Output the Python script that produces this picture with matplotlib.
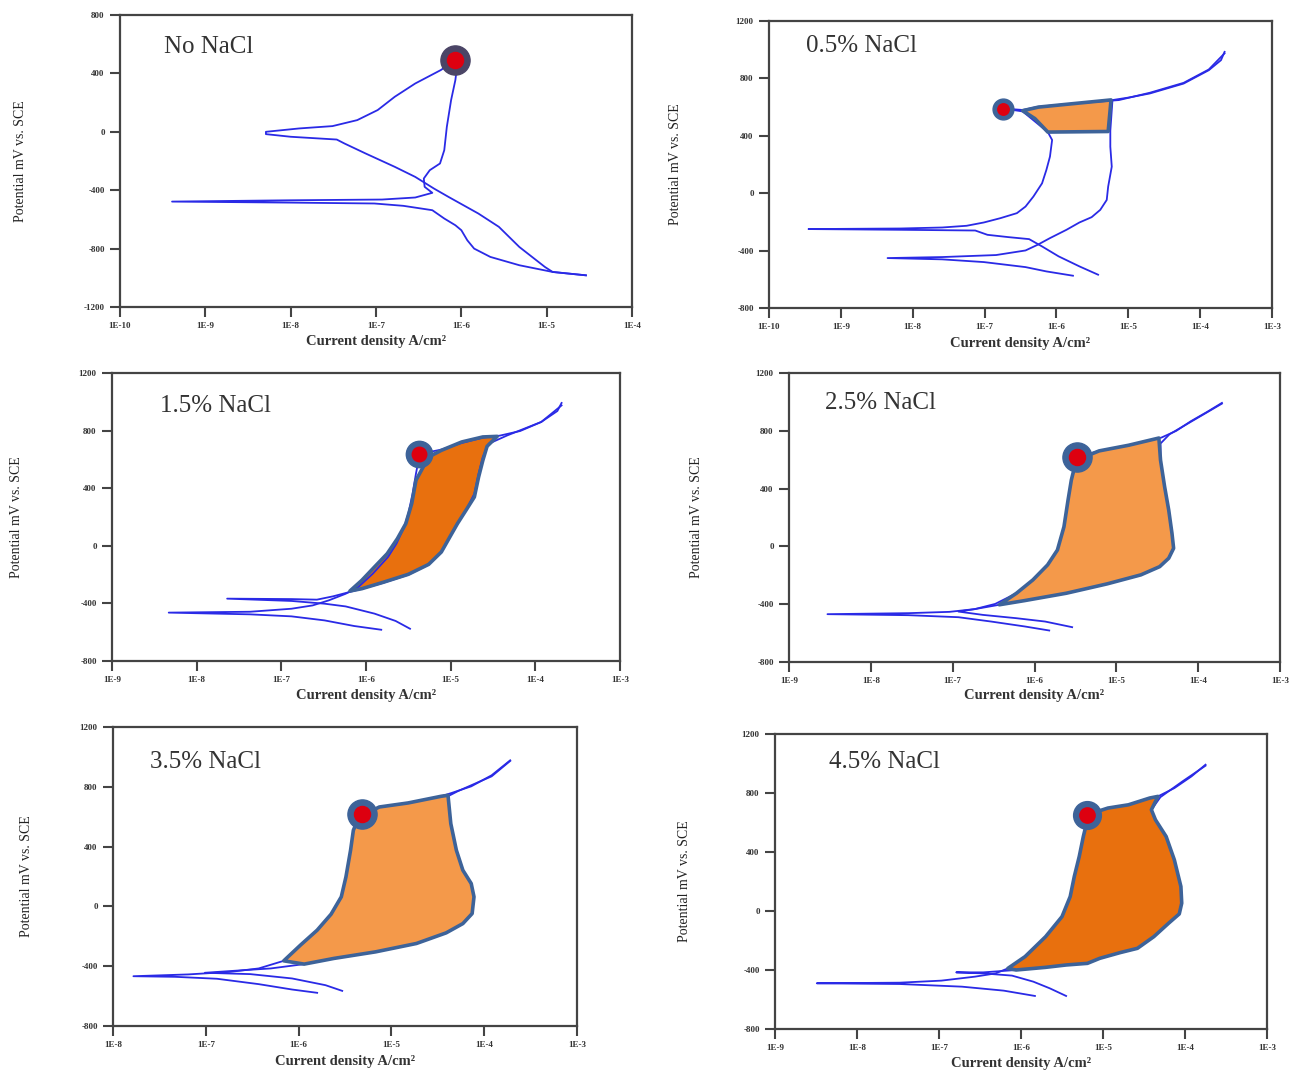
import numpy as np
import matplotlib
matplotlib.use("Agg")
import matplotlib.pyplot as plt

plt.rcParams['font.family'] = ['Liberation Serif', 'DejaVu Serif']

W, H = 1299, 1072

# ---------------- data (log10 current density A/cm2, potential mV vs SCE) -------------
titles = ["No NaCl", "0.5% NaCl", "1.5% NaCl", "2.5% NaCl", "3.5% NaCl", "4.5% NaCl"]

p1_xticklabels = ["1E-10", "1E-9", "1E-8", "1E-7", "1E-6", "1E-5", "1E-4"]
p1_yticks = [-1200, -800, -400, 0, 400, 800]
p1_fwd_log = [-4.54, -4.93, -5.32, -5.66, -5.85, -5.93, -6.00, -6.07, -6.20, -6.34, -6.68, -7.02, -8.00, -9.39,
              -8.00, -6.93, -6.54, -6.34, -6.43, -6.44, -6.37, -6.25, -6.20, -6.17, -6.12, -6.07, -6.05, -6.07]
p1_fwd_mv = [-983, -960, -914, -857, -800, -743, -674, -640, -594, -537, -507, -491, -485, -478,
             -469, -464, -450, -418, -377, -320, -263, -217, -126, 34, 217, 354, 446, 491]
p1_rev_log = [-6.07, -6.24, -6.54, -6.78, -6.98, -7.22, -7.51, -7.90, -8.29, -8.29, -8.00, -7.46, -7.37, -7.12,
              -6.78, -6.54, -6.32, -6.15, -5.80, -5.56, -5.32, -5.02, -4.93, -4.54]
p1_rev_mv = [491, 423, 331, 240, 149, 80, 39, 23, 0, -16, -34, -53, -80, -149,
             -240, -309, -389, -446, -560, -651, -789, -926, -960, -983]
p1_dot = (-6.07, 491)

p2_xticklabels = ["1E-10", "1E-9", "1E-8", "1E-7", "1E-6", "1E-5", "1E-4", "1E-3"]
p2_yticks = [-800, -400, 0, 400, 800, 1200]
p2_fwd_log = [-5.77, -6.14, -6.43, -7.01, -7.59, -8.35, -7.59, -6.84, -6.43, -6.26, -6.09, -5.86, -5.68, -5.51,
              -5.39, -5.30, -5.28, -5.23, -5.25, -5.25, -5.22, -4.99, -4.70, -4.23, -3.88, -3.71, -3.66]
p2_fwd_mv = [-575, -545, -515, -480, -461, -452, -445, -431, -399, -359, -313, -255, -204, -167,
             -116, -47, 46, 185, 324, 435, 649, 667, 695, 764, 857, 927, 985]
p2_rev_log = [-3.66, -3.88, -4.23, -4.70, -5.13, -5.86, -6.26, -6.47, -6.74, -6.47, -6.12, -6.06, -6.09, -6.14,
              -6.20, -6.32, -6.43, -6.55, -6.78, -7.01, -7.25, -7.59, -8.17, -9.45, -8.17, -7.13, -6.96,
              -6.67, -6.38, -6.20, -5.97, -5.68, -5.42]
p2_rev_mv = [975, 862, 769, 700, 649, 621, 602, 580, 590, 570, 426, 371, 255, 162,
             69, -23, -93, -139, -174, -204, -227, -239, -246, -250, -255, -260, -290,
             -306, -320, -371, -440, -510, -568]
p2_poly_log = [-6.47, -6.25, -5.85, -5.24, -5.28, -6.12, -6.30]
p2_poly_mv = [575, 600, 620, 650, 430, 426, 520]
p2_dot = (-6.74, 590)

p3_xticklabels = ["1E-9", "1E-8", "1E-7", "1E-6", "1E-5", "1E-4", "1E-3"]
p3_yticks = [-800, -400, 0, 400, 800, 1200]
p3_fwd_log = [-5.82, -6.14, -6.49, -6.88, -7.37, -8.33, -7.37, -6.88, -6.63, -6.44, -6.24, -6.09, -5.92, -5.74,
              -5.64, -5.55, -5.50, -5.45, -5.41, -5.38, -5.37, -5.11, -4.87, -4.62, -4.42, -4.18, -3.93, -3.74, -3.69]
p3_fwd_mv = [-583, -557, -518, -490, -476, -464, -458, -437, -414, -379, -333, -286, -194, -78,
             15, 130, 223, 362, 501, 593, 638, 668, 714, 751, 765, 797, 860, 936, 992]
p3_rev_log = [-3.69, -3.93, -4.33, -4.55, -4.62, -4.67, -4.72, -4.82, -4.92, -5.01, -5.11, -5.26, -5.50, -5.80,
              -6.09, -6.39, -6.58, -6.88, -7.64, -6.88, -6.49, -6.24, -5.90, -5.65, -5.48]
p3_rev_mv = [975, 860, 767, 709, 617, 501, 362, 246, 154, 61, -43, -129, -201, -258,
             -305, -351, -374, -370, -367, -383, -402, -421, -471, -522, -576]
p3_poly_log = [-6.19, -6.05, -5.90, -5.75, -5.63, -5.53, -5.46, -5.41, -5.26, -5.11, -4.87, -4.62, -4.45,
               -4.57, -4.62, -4.67, -4.72, -4.82, -4.92, -5.01, -5.11, -5.26, -5.50, -5.80, -6.05]
p3_poly_mv = [-314, -240, -147, -55, 49, 154, 293, 455, 617, 663, 721, 756, 760,
              691, 593, 478, 339, 246, 154, 61, -43, -129, -198, -254, -298]
p3_dot = (-5.37, 638)

p4_xticklabels = ["1E-9", "1E-8", "1E-7", "1E-6", "1E-5", "1E-4", "1E-3"]
p4_yticks = [-800, -400, 0, 400, 800, 1200]
p4_fwd_log = [-5.82, -6.12, -6.53, -6.93, -7.54, -8.53, -7.54, -7.04, -6.73, -6.48, -6.22, -6.02, -5.84,
              -5.72, -5.64, -5.59, -5.55, -5.49, -5.46, -5.21, -4.85, -4.45, -4.27, -4.09, -3.89, -3.71]
p4_fwd_mv = [-582, -554, -520, -490, -476, -469, -462, -453, -434, -398, -324, -232, -128,
             -25, 136, 321, 459, 574, 620, 661, 700, 753, 799, 866, 931, 993]
p4_rev_log = [-3.71, -4.09, -4.35, -4.46, -4.46, -4.41, -4.36, -4.32, -4.30, -4.36, -4.47, -4.70, -5.11,
              -5.61, -6.12, -6.43, -6.73, -6.93, -6.63, -6.22, -5.87, -5.54]
p4_rev_mv = [988, 862, 776, 712, 597, 413, 252, 90, -13, -82, -140, -197, -259,
             -324, -375, -404, -434, -451, -474, -497, -520, -559]
p4_poly_log = [-6.43, -6.22, -6.02, -5.84, -5.72, -5.64, -5.59, -5.55, -5.49, -5.21, -4.85, -4.48,
               -4.46, -4.41, -4.36, -4.32, -4.30, -4.36, -4.47, -4.70, -5.11, -5.61, -6.12]
p4_poly_mv = [-404, -324, -232, -128, -25, 136, 321, 459, 597, 661, 700, 750,
              597, 413, 252, 90, -13, -82, -140, -197, -259, -324, -375]
p4_dot = (-5.48, 620)

p5_xticklabels = ["1E-8", "1E-7", "1E-6", "1E-5", "1E-4", "1E-3"]
p5_yticks = [-800, -400, 0, 400, 800, 1200]
p5_fwd_log = [-5.80, -6.07, -6.43, -6.88, -7.33, -7.78, -7.19, -6.74, -6.43, -6.16, -5.98, -5.80, -5.65,
              -5.54, -5.49, -5.44, -5.41, -5.35, -5.32, -5.13, -4.82, -4.46, -4.35, -4.14, -3.92, -3.72]
p5_fwd_mv = [-578, -556, -520, -484, -471, -467, -455, -438, -415, -364, -259, -159, -52,
             64, 197, 376, 509, 598, 621, 665, 692, 737, 759, 803, 877, 977]
p5_rev_log = [-3.72, -3.92, -4.28, -4.39, -4.36, -4.30, -4.23, -4.14, -4.11, -4.13, -4.23, -4.41, -4.73,
              -5.17, -5.62, -5.94, -6.30, -6.70, -7.01, -6.52, -6.07, -5.71, -5.53]
p5_rev_mv = [973, 870, 772, 737, 554, 376, 242, 153, 64, -48, -115, -177, -248,
             -304, -348, -386, -415, -431, -444, -453, -482, -527, -565]
p5_poly_log = [-6.16, -5.98, -5.80, -5.65, -5.54, -5.49, -5.44, -5.41, -5.35, -5.13, -4.82, -4.46, -4.39,
               -4.36, -4.30, -4.23, -4.14, -4.11, -4.13, -4.23, -4.41, -4.73, -5.17, -5.62, -5.94]
p5_poly_mv = [-364, -259, -159, -52, 64, 197, 376, 509, 598, 665, 692, 737, 743,
              554, 376, 242, 153, 64, -48, -115, -177, -248, -304, -348, -386]
p5_dot = (-5.32, 621)

p6_xticklabels = ["1E-9", "1E-8", "1E-7", "1E-6", "1E-5", "1E-4", "1E-3"]
p6_yticks = [-800, -400, 0, 400, 800, 1200]
p6_fwd_log = [-5.83, -6.21, -6.72, -7.48, -8.49, -7.48, -6.97, -6.56, -6.31, -6.16, -5.95, -5.70, -5.50,
              -5.40, -5.35, -5.29, -5.24, -5.20, -5.19, -4.94, -4.69, -4.43, -4.33, -4.13, -3.92, -3.75]
p6_fwd_mv = [-576, -540, -513, -495, -490, -486, -472, -445, -423, -389, -309, -174, -38,
             98, 234, 369, 505, 596, 652, 698, 720, 766, 777, 833, 913, 992]
p6_rev_log = [-3.75, -4.03, -4.30, -4.41, -4.36, -4.23, -4.13, -4.05, -4.04, -4.07, -4.20, -4.38, -4.58,
              -4.79, -5.04, -5.19, -5.45, -5.70, -6.06, -6.46, -6.79, -6.46, -6.11, -5.85, -5.65, -5.45]
p6_rev_mv = [985, 879, 772, 686, 618, 505, 347, 166, 53, -20, -83, -174, -253,
             -282, -321, -355, -366, -382, -400, -416, -416, -423, -438, -479, -524, -576]
p6_poly_log = [-6.16, -5.95, -5.70, -5.50, -5.40, -5.35, -5.29, -5.24, -5.20, -5.15, -4.94, -4.69, -4.43,
               -4.33, -4.41, -4.36, -4.23, -4.13, -4.05, -4.04, -4.07, -4.20, -4.38, -4.58, -4.79, -5.04,
               -5.19, -5.45, -5.70, -6.06]
p6_poly_mv = [-389, -309, -174, -38, 98, 234, 369, 505, 596, 660, 698, 720, 766,
              777, 686, 618, 505, 347, 166, 53, -20, -83, -174, -253, -282, -321,
              -355, -366, -382, -400]
p6_dot = (-5.19, 650)

# ---------------- styling / layout ------------------------------------------------------
LINE = '#2a2ae6'
EDGE = '#3d6399'
LIGHT_OR = '#f4994a'
DARK_OR = '#e8700e'
AX = '#444444'

panels = [
    dict(rect=(120, 15, 632, 307), xt=p1_xticklabels, xstart=-10, yt=p1_yticks,
         fwd=(p1_fwd_log, p1_fwd_mv), rev=(p1_rev_log, p1_rev_mv), poly=None, fill=None,
         dot=p1_dot, dotsize=21, ring='#4b4566', title_px=(164, 47), ylab_x=20, xlab_y=342),
    dict(rect=(769, 21, 1272, 308), xt=p2_xticklabels, xstart=-10, yt=p2_yticks,
         fwd=(p2_fwd_log, p2_fwd_mv), rev=(p2_rev_log, p2_rev_mv), poly=(p2_poly_log, p2_poly_mv),
         fill=LIGHT_OR, dot=p2_dot, dotsize=15, ring=EDGE, title_px=(806, 46), ylab_x=675, xlab_y=344),
    dict(rect=(112, 373, 620, 661), xt=p3_xticklabels, xstart=-9, yt=p3_yticks,
         fwd=(p3_fwd_log, p3_fwd_mv), rev=(p3_rev_log, p3_rev_mv), poly=(p3_poly_log, p3_poly_mv),
         fill=DARK_OR, dot=p3_dot, dotsize=19, ring=EDGE, title_px=(160, 406), ylab_x=17, xlab_y=695),
    dict(rect=(789, 373, 1280, 662), xt=p4_xticklabels, xstart=-9, yt=p4_yticks,
         fwd=(p4_fwd_log, p4_fwd_mv), rev=(p4_rev_log, p4_rev_mv), poly=(p4_poly_log, p4_poly_mv),
         fill=LIGHT_OR, dot=p4_dot, dotsize=21, ring=EDGE, title_px=(825, 403), ylab_x=697, xlab_y=696),
    dict(rect=(113, 727, 577, 1026), xt=p5_xticklabels, xstart=-8, yt=p5_yticks,
         fwd=(p5_fwd_log, p5_fwd_mv), rev=(p5_rev_log, p5_rev_mv), poly=(p5_poly_log, p5_poly_mv),
         fill=LIGHT_OR, dot=p5_dot, dotsize=21, ring=EDGE, title_px=(150, 762), ylab_x=27, xlab_y=1061),
    dict(rect=(775, 734, 1267, 1029), xt=p6_xticklabels, xstart=-9, yt=p6_yticks,
         fwd=(p6_fwd_log, p6_fwd_mv), rev=(p6_rev_log, p6_rev_mv), poly=(p6_poly_log, p6_poly_mv),
         fill=DARK_OR, dot=p6_dot, dotsize=20, ring=EDGE, title_px=(829, 762), ylab_x=685, xlab_y=1064),
]

fig = plt.figure(figsize=(W / 100, H / 100), dpi=100)
fig.patch.set_facecolor('white')

for p, title in zip(panels, titles):
    l, t, r, b = p['rect']
    ax = fig.add_axes([l / W, 1 - b / H, (r - l) / W, (b - t) / H])
    ax.set_xscale('log')
    n = len(p['xt'])
    xticks = [10.0 ** (p['xstart'] + i) for i in range(n)]
    ax.set_xlim(xticks[0], xticks[-1])
    ax.set_ylim(min(p['yt']), max(p['yt']))
    ax.set_xticks(xticks)
    ax.set_xticklabels(p['xt'])
    ax.xaxis.set_minor_locator(matplotlib.ticker.NullLocator())
    ax.set_yticks(p['yt'])
    ax.set_yticklabels([str(v) for v in p['yt']])

    for s in ax.spines.values():
        s.set_linewidth(1.6)
        s.set_color(AX)
    ax.tick_params(direction='out', length=7, width=1.5, color=AX, labelsize=6.5,
                   labelcolor='#333333', pad=4)
    for lab in ax.get_xticklabels() + ax.get_yticklabels():
        lab.set_fontweight('bold')

    if p['poly'] is not None:
        ax.fill(10.0 ** np.array(p['poly'][0]), p['poly'][1], facecolor=p['fill'],
                edgecolor='none', zorder=2)
    ax.plot(10.0 ** np.array(p['fwd'][0]), p['fwd'][1], color=LINE, lw=1.3, zorder=3)
    ax.plot(10.0 ** np.array(p['rev'][0]), p['rev'][1], color=LINE, lw=1.3, zorder=3)
    if p['poly'] is not None:
        ax.fill(10.0 ** np.array(p['poly'][0]), p['poly'][1], facecolor='none',
                edgecolor=EDGE, lw=2.6, joinstyle='round', zorder=4)
    dx, dy = p['dot']
    ax.plot([10.0 ** dx], [dy], 'o', ms=p['dotsize'], mfc=p['ring'], mec=p['ring'], zorder=5)
    ax.plot([10.0 ** dx], [dy], 'o', ms=p['dotsize'] * 0.55, mfc='#dd0010', mec='#dd0010', zorder=6)

    ax.set_xlabel("Current density A/cm\u00b2", fontsize=10.5, fontweight='bold', color='#333333')
    ax.xaxis.set_label_coords(0.5, (b - p['xlab_y']) / (b - t))
    ax.xaxis.label.set_va('center')
    ax.set_ylabel("Potential mV vs. SCE", fontsize=10, color='#222222')
    ax.yaxis.set_label_coords((p['ylab_x'] - l) / (r - l), 0.5)
    ax.yaxis.label.set_va('center')

    tx, ty = p['title_px']
    fig.text(tx / W, 1 - ty / H, title, fontsize=18, color='#333333', ha='left', va='center')

fig.savefig('out.png', dpi=100, facecolor='white')
